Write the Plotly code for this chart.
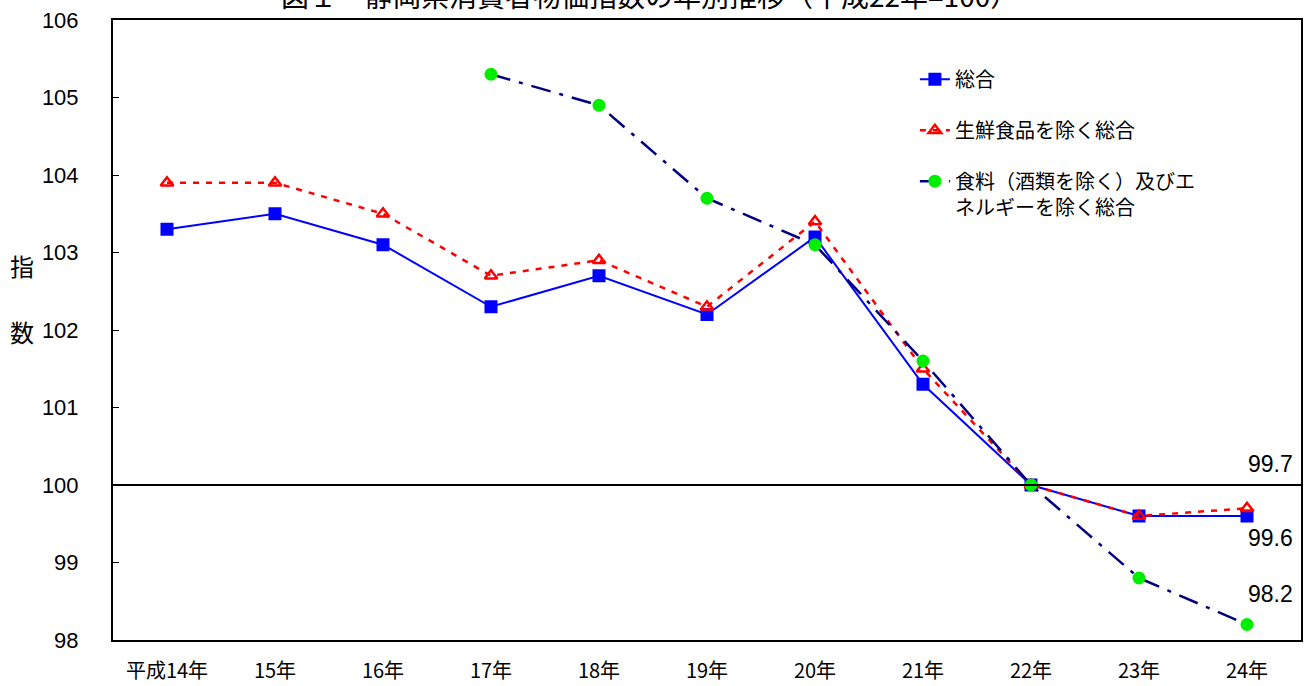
import plotly.graph_objects as go

years = ["平成14年", "15年", "16年", "17年", "18年", "19年", "20年", "21年", "22年", "23年", "24年"]
sogo = [103.3, 103.5, 103.1, 102.3, 102.7, 102.2, 103.2, 101.3, 100.0, 99.6, 99.6]
seisen = [103.9, 103.9, 103.5, 102.7, 102.9, 102.3, 103.4, 101.5, 100.0, 99.6, 99.7]
core = [None, None, None, 105.3, 104.9, 103.7, 103.1, 101.6, 100.0, 98.8, 98.2]
names = ["総合", "生鮮食品を除く総合", "食料（酒類を除く）及びエ<br>ネルギーを除く総合"]
yticks = [98, 99, 100, 101, 102, 103, 104, 105, 106]
title = "図１　静岡県消費者物価指数の年別推移（平成22年=100）"

JP = "Noto Sans CJK JP"
NUM = "Liberation Sans, Arial"

fig = go.Figure()
fig.add_trace(go.Scatter(x=years, y=sogo, name=names[0], mode="lines+markers",
                         line=dict(color="#0000FF", width=2),
                         marker=dict(symbol="square", size=13, color="#0000FF"),
                         legendgroup="a"))
fig.add_trace(go.Scatter(x=years, y=seisen, name=names[1], mode="lines+markers",
                         line=dict(color="#FF0000", width=2.5, dash="6px,7px"),
                         marker=dict(symbol="triangle-up-open", size=11, color="#FF0000",
                                     line=dict(width=2.5, color="#FF0000")),
                         legendgroup="b"))
fig.add_trace(go.Scatter(x=years, y=core, name=names[2], mode="lines+markers",
                         line=dict(color="#000080", width=2.5, dash="20px,9px,4px,9px"),
                         marker=dict(symbol="circle", size=13, color="#00EE00"),
                         legendgroup="c"))

# end labels
lab_font = dict(family=NUM, size=23, color="black")
fig.add_annotation(x=years[-1], y=seisen[-1], text=f"{seisen[-1]:.1f}", showarrow=False,
                   xshift=23, yshift=44, font=lab_font)
fig.add_annotation(x=years[-1], y=sogo[-1], text=f"{sogo[-1]:.1f}", showarrow=False,
                   xshift=23, yshift=-22, font=lab_font)
fig.add_annotation(x=years[-1], y=core[-1], text=f"{core[-1]:.1f}", showarrow=False,
                   xshift=23, yshift=31, font=lab_font)

# title (partially cut at top)
fig.add_annotation(xref="paper", yref="paper", x=0.452, y=1.04, text=title, showarrow=False,
                   xanchor="center", yanchor="middle", font=dict(family=JP, size=28, color="black"))
# y-axis title
fig.add_annotation(xref="paper", yref="paper", x=-0.0766, y=1 - (265 - 20) / 620, text="指",
                   xanchor="center", yanchor="middle",
                   showarrow=False, font=dict(family=JP, size=24, color="black"))
fig.add_annotation(xref="paper", yref="paper", x=-0.0766, y=1 - (332 - 20) / 620, text="数",
                   xanchor="center", yanchor="middle",
                   showarrow=False, font=dict(family=JP, size=24, color="black"))

fig.add_shape(type="line", xref="paper", yref="y", x0=0, x1=1, y0=100, y1=100,
              line=dict(color="black", width=2))

fig.update_layout(
    width=1306, height=686,
    margin=dict(l=113, r=5, t=20, b=46, autoexpand=False),
    plot_bgcolor="white", paper_bgcolor="white",
    showlegend=True,
    legend=dict(x=0.675, y=0.936, xanchor="left", yanchor="top", valign="top",
                font=dict(family=JP, size=20, color="black"),
                tracegroupgap=22, bgcolor="rgba(0,0,0,0)"),
    xaxis=dict(range=[-0.5, 10.5], showline=True, linecolor="black", linewidth=2, mirror=True,
               ticks="", showgrid=False, ticklabelstandoff=12, automargin=False,
               tickfont=dict(family=JP, size=20, color="black")),
    yaxis=dict(range=[98, 106], tickvals=yticks, showline=True, linecolor="black",
               linewidth=2, mirror=True, ticks="inside", ticklen=6, tickcolor="black",
               showgrid=False, zeroline=False, ticklabelstandoff=28, automargin=False,
               tickfont=dict(family=NUM, size=22, color="black")),
)
fig.write_html("out.html")
